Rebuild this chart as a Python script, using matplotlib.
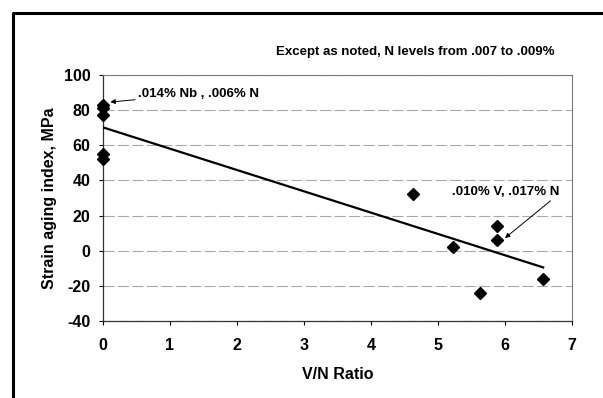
import matplotlib.pyplot as plt
import numpy as np
from matplotlib.lines import Line2D

plt.rcParams['font.family'] = ['Liberation Sans', 'DejaVu Sans']
plt.rcParams['axes.unicode_minus'] = False

# V/N ratio and strain aging index (MPa)
vn_ratio = [0, 0, 0, 0, 0, 4.62, 5.23, 5.62, 5.88, 5.88, 6.57]
aging_index = [83, 81, 77, 55, 52, 32, 2, -24, 14, 6, -16]

x_ticks = [0, 1, 2, 3, 4, 5, 6, 7]
y_ticks = [-40, -20, 0, 20, 40, 60, 80, 100]

note = 'Except as noted, N levels from .007 to .009%'
nb_label = '.014% Nb , .006% N'
v_label = '.010% V, .017% N'

fig = plt.figure(figsize=(6.03, 3.98), dpi=100)
ax = fig.add_axes([0.1708, 0.1935, 0.7778, 0.6181])

x = np.array(vn_ratio)
y = np.array(aging_index)

# linear trend line
slope, icpt = np.polyfit(x, y, 1)
xl = np.array([0, x.max()])
ax.plot(xl, slope * xl + icpt, color='black', lw=1.6, zorder=3)

ax.plot(x, y, 'D', color='black', markersize=6.3, zorder=4, clip_on=False)

ax.set_xlim(0, 7)
ax.set_ylim(-40, 100)
ax.set_xticks(x_ticks)
ax.set_yticks(y_ticks)
ax.yaxis.grid(True, color='#a8a8a8', lw=0.8, ls=(0, (10, 3)))
ax.set_axisbelow(True)

for s in ['top', 'right']:
    ax.spines[s].set_color('#7a7a7a')
    ax.spines[s].set_linewidth(0.8)
for s in ['left', 'bottom']:
    ax.spines[s].set_color('#333333')
    ax.spines[s].set_linewidth(0.9)

ax.tick_params(axis='both', direction='out', length=3, width=0.8,
               labelsize=11.5)
ax.tick_params(axis='x', pad=9)
ax.tick_params(axis='y', pad=6)
for lab in ax.get_xticklabels() + ax.get_yticklabels():
    lab.set_fontweight('bold')

ax.set_xlabel('V/N Ratio', fontsize=11.5, fontweight='bold', labelpad=10)
ax.set_ylabel('Strain aging index, MPa', fontsize=11.5, fontweight='bold',
              labelpad=5)

fig.text(555 / 603, 1 - 52 / 398, note, ha='right', va='center',
         fontsize=9.5, fontweight='bold')

ax.annotate(nb_label, xy=(0.11, 84.6), xytext=(0.52, 89.3),
            fontsize=9.5, fontweight='bold', va='center', ha='left',
            arrowprops=dict(arrowstyle='-|>', color='black', lw=0.7,
                            mutation_scale=7, shrinkA=0, shrinkB=0))
ax.annotate(v_label, xy=(6.0, 7.2), xytext=(6.81, 33.4),
            fontsize=9.5, fontweight='bold', va='center', ha='right',
            arrowprops=dict(arrowstyle='-|>', color='black', lw=0.7,
                            mutation_scale=7, shrinkA=0, shrinkB=0,
                            relpos=(0.95, 0.0)))

# scanned page frame
fig.add_artist(Line2D([13 / 603, 13 / 603, 1], [0, 1 - 13 / 398, 1 - 13 / 398],
                      transform=fig.transFigure, color='black', lw=2.2))

fig.savefig('out.png', dpi=100)
